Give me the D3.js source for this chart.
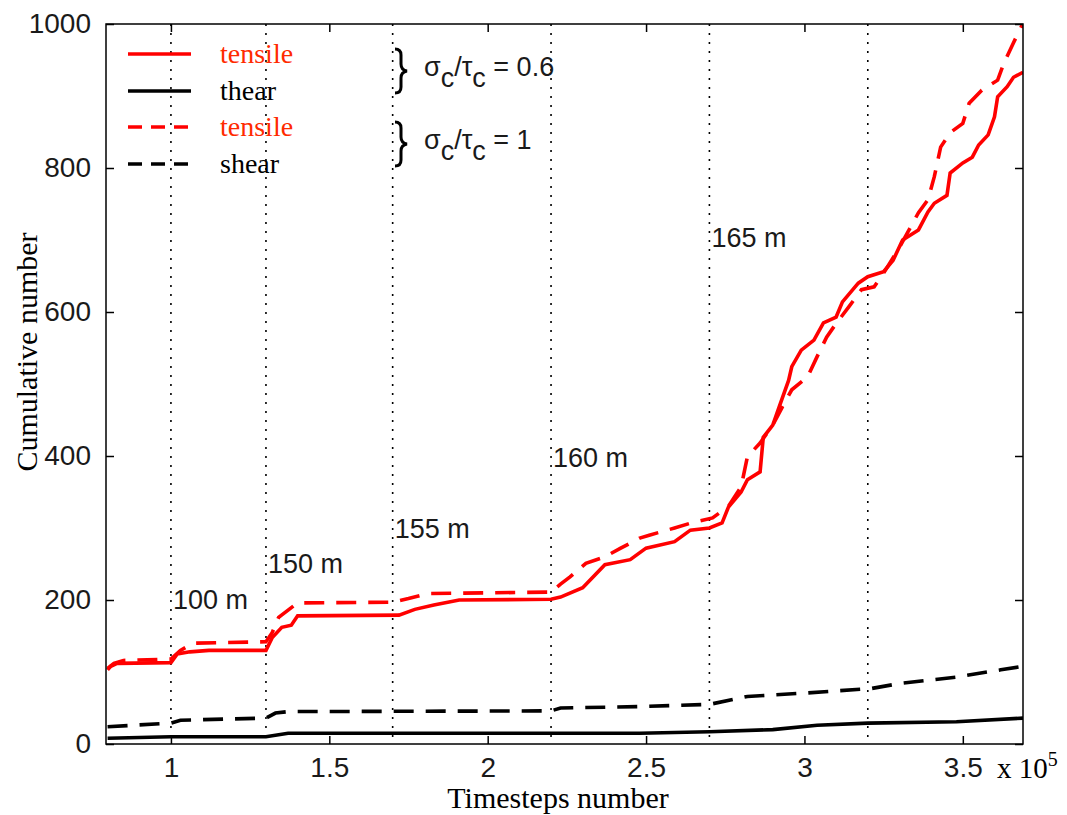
<!DOCTYPE html>
<html>
<head>
<meta charset="utf-8">
<script src="https://cdn.jsdelivr.net/npm/d3@7"></script>
<style>
  body { margin: 0; background: #fff; }
  svg { display: block; }
</style>
</head>
<body>
<script>
// cumulative counts vs timesteps (x in units of 1e5)
const tensile06X = [0.80, 0.81, 0.83, 1.00, 1.02, 1.06, 1.12, 1.30, 1.32, 1.35, 1.38, 1.40, 1.72, 1.77, 1.83, 1.91, 2.20, 2.23, 2.30, 2.37, 2.45, 2.50, 2.59, 2.64, 2.70, 2.74, 2.76, 2.80, 2.82, 2.86, 2.87, 2.90, 2.92, 2.95, 2.96, 2.99, 3.03, 3.06, 3.10, 3.12, 3.17, 3.20, 3.25, 3.28, 3.31, 3.36, 3.39, 3.41, 3.45, 3.46, 3.50, 3.53, 3.55, 3.58, 3.60, 3.61, 3.64, 3.66, 3.69];
const tensile06Y = [103, 108, 112, 113, 125, 128, 130, 130, 148, 162, 165, 178, 179, 187, 193, 200, 201, 204, 217, 249, 256, 272, 281, 297, 300, 307, 329, 350, 367, 378, 426, 443, 468, 505, 524, 547, 561, 585, 593, 614, 640, 649, 656, 672, 700, 714, 739, 751, 762, 793, 807, 815, 832, 846, 871, 899, 913, 926, 933];

const tensile1X = [0.80, 0.82, 0.85, 1.00, 1.03, 1.07, 1.30, 1.32, 1.34, 1.40, 1.70, 1.75, 1.81, 2.20, 2.23, 2.26, 2.31, 2.37, 2.42, 2.48, 2.51, 2.59, 2.65, 2.71, 2.76, 2.80, 2.82, 2.86, 2.90, 2.93, 2.96, 3.01, 3.04, 3.07, 3.10, 3.14, 3.18, 3.22, 3.25, 3.30, 3.36, 3.39, 3.41, 3.43, 3.46, 3.50, 3.52, 3.56, 3.61, 3.63, 3.66, 3.69];
const tensile1Y = [105, 112, 116, 118, 130, 140, 142, 155, 176, 196, 197, 202, 209, 211, 222, 232, 251, 260, 272, 286, 290, 300, 308, 314, 330, 357, 399, 418, 443, 468, 492, 510, 538, 565, 584, 607, 631, 635, 654, 690, 738, 756, 788, 829, 849, 862, 890, 908, 922, 946, 974, 1001];

const shear06X = [0.80, 1.00, 1.30, 1.37, 2.48, 2.70, 2.90, 3.04, 3.20, 3.48, 3.69];
const shear06Y = [8, 10, 10, 15, 15, 17, 20, 26, 29, 31, 36];

const shear1X = [0.80, 1.00, 1.03, 1.30, 1.33, 1.37, 2.20, 2.23, 2.48, 2.70, 2.82, 3.01, 3.21, 3.30, 3.48, 3.62, 3.69];
const shear1Y = [24, 29, 33, 36, 43, 45, 46, 50, 52, 55, 66, 71, 77, 84, 93, 103, 108];

const xTicks = [1, 1.5, 2, 2.5, 3, 3.5];
const yTicks = [0, 200, 400, 600, 800, 1000];

// excavation stages: dotted line position + depth label
const stageX = [1.0, 1.3, 1.7, 2.2, 2.7, 3.2];
const stageLabels = ['100 m', '150 m', '155 m', '160 m', '165 m'];
const stageLabelY = [188, 238, 286, 385, 690];

const legendLabels = ['tensile', 'thear', 'tensile', 'shear'];
const ratioLabels = ['0.6', '1'];

const W = 1067, H = 815;
const plotL = 106, plotR = 1023, plotT = 24, plotB = 744;

const svg = d3.select('body').append('svg')
    .attr('width', W)
    .attr('height', H);

const x = d3.scaleLinear().domain([0.795, 3.69]).range([plotL, plotR]);
const y = d3.scaleLinear().domain([0, 1000]).range([plotB, plotT]);

const arial = 'Liberation Sans, Arial, sans-serif';
const times = 'Liberation Serif, Times New Roman, serif';

svg.append('clipPath').attr('id', 'plot')
    .append('rect')
    .attr('x', plotL).attr('y', plotT)
    .attr('width', plotR - plotL).attr('height', plotB - plotT);

// dotted stage lines
svg.append('g').selectAll('line')
    .data(stageX)
    .join('line')
    .attr('x1', d => x(d)).attr('x2', d => x(d))
    .attr('y1', plotT).attr('y2', plotB)
    .attr('stroke', '#000')
    .attr('stroke-width', 1.6)
    .attr('stroke-dasharray', '2,7');

// curves
const line = d3.line().x(d => x(d[0])).y(d => y(d[1]));
const series = [
    { xs: tensile06X, ys: tensile06Y, color: '#ff0000', dash: null },
    { xs: shear06X, ys: shear06Y, color: '#000', dash: null },
    { xs: tensile1X, ys: tensile1Y, color: '#ff0000', dash: '20,12' },
    { xs: shear1X, ys: shear1Y, color: '#000', dash: '20,12' }
];
svg.append('g').attr('clip-path', 'url(#plot)')
    .selectAll('path')
    .data(series)
    .join('path')
    .attr('d', s => line(d3.zip(s.xs, s.ys)))
    .attr('fill', 'none')
    .attr('stroke', s => s.color)
    .attr('stroke-width', 3.6)
    .attr('stroke-dasharray', s => s.dash);

// frame
svg.append('rect')
    .attr('x', plotL).attr('y', plotT)
    .attr('width', plotR - plotL).attr('height', plotB - plotT)
    .attr('fill', 'none').attr('stroke', '#000').attr('stroke-width', 1.5);

// axes (ticks pointing inward on all four sides)
const xAxis = svg.append('g').attr('transform', `translate(0,${plotB})`)
    .call(d3.axisBottom(x).tickValues(xTicks).tickSizeInner(-8).tickSizeOuter(0).tickFormat(d3.format('')));
const xTop = svg.append('g').attr('transform', `translate(0,${plotT})`)
    .call(d3.axisTop(x).tickValues(xTicks).tickSizeInner(-8).tickSizeOuter(0).tickFormat(''));
const yAxis = svg.append('g').attr('transform', `translate(${plotL},0)`)
    .call(d3.axisLeft(y).tickValues(yTicks).tickSizeInner(-8).tickSizeOuter(0).tickPadding(15).tickFormat(d3.format('d')));
const yRight = svg.append('g').attr('transform', `translate(${plotR},0)`)
    .call(d3.axisRight(y).tickValues(yTicks).tickSizeInner(-8).tickSizeOuter(0).tickFormat(''));

[xAxis, xTop, yAxis, yRight].forEach(g => {
    g.select('.domain').remove();
    g.selectAll('.tick line').attr('stroke', '#000').attr('stroke-width', 1.5);
    g.selectAll('.tick text')
        .attr('font-family', arial)
        .attr('font-size', 28)
        .attr('fill', '#1a1a1a');
});
xAxis.selectAll('.tick text').attr('dy', '0.71em').attr('y', 13);

// x 10^5
const exp = svg.append('text')
    .attr('x', 997).attr('y', 778)
    .attr('font-family', times).attr('font-size', 29).attr('fill', '#000');
exp.append('tspan').text('x 10');
exp.append('tspan').attr('dy', -12).attr('font-size', 20).text('5');

// axis titles
svg.append('text')
    .attr('x', 558).attr('y', 808)
    .attr('text-anchor', 'middle')
    .attr('font-family', times).attr('font-size', 30)
    .text('Timesteps number');
svg.append('text')
    .attr('transform', 'translate(37,352) rotate(-90)')
    .attr('text-anchor', 'middle')
    .attr('font-family', times).attr('font-size', 30)
    .text('Cumulative number');

// stage depth labels
svg.append('g').selectAll('text')
    .data(stageLabels)
    .join('text')
    .attr('x', (d, i) => x(stageX[i]) + 2)
    .attr('y', (d, i) => y(stageLabelY[i]))
    .attr('font-family', arial).attr('font-size', 27)
    .attr('fill', '#1a1a1a')
    .text(d => d);

// legend
const legend = svg.append('g');
const legendY = [54, 91, 127, 164];
legend.selectAll('line')
    .data(series)
    .join('line')
    .attr('x1', 128).attr('x2', 191)
    .attr('y1', (d, i) => legendY[i]).attr('y2', (d, i) => legendY[i])
    .attr('stroke', d => d.color)
    .attr('stroke-width', 3.5)
    .attr('stroke-dasharray', d => d.dash ? '14,9' : null);
legend.selectAll('text')
    .data(legendLabels)
    .join('text')
    .attr('x', 220)
    .attr('y', (d, i) => legendY[i] + 9)
    .attr('font-family', times).attr('font-size', 28)
    .attr('fill', (d, i) => i % 2 === 0 ? '#ff2a00' : '#000')
    .text(d => d);

// braces + ratio annotations
const braceMid = [71, 144];
braceMid.forEach((m, i) => {
    svg.append('path')
        .attr('d', `M395,${m - 22} Q401,${m - 22} 401,${m - 16} L401,${m - 7} Q401,${m - 1} 407,${m} Q401,${m + 1} 401,${m + 7} L401,${m + 16} Q401,${m + 22} 395,${m + 22}`)
        .attr('fill', 'none').attr('stroke', '#000').attr('stroke-width', 3);
    const t = svg.append('text')
        .attr('x', 424).attr('y', m + 5)
        .attr('font-family', arial).attr('font-size', 27)
        .attr('fill', '#1a1a1a');
    t.append('tspan').text('σ');
    t.append('tspan').attr('dy', 11).text('c');
    t.append('tspan').attr('dy', -11).text('/τ');
    t.append('tspan').attr('dy', 11).text('c');
    t.append('tspan').attr('dy', -11).text(' = ' + ratioLabels[i]);
});
</script>
</body>
</html>
